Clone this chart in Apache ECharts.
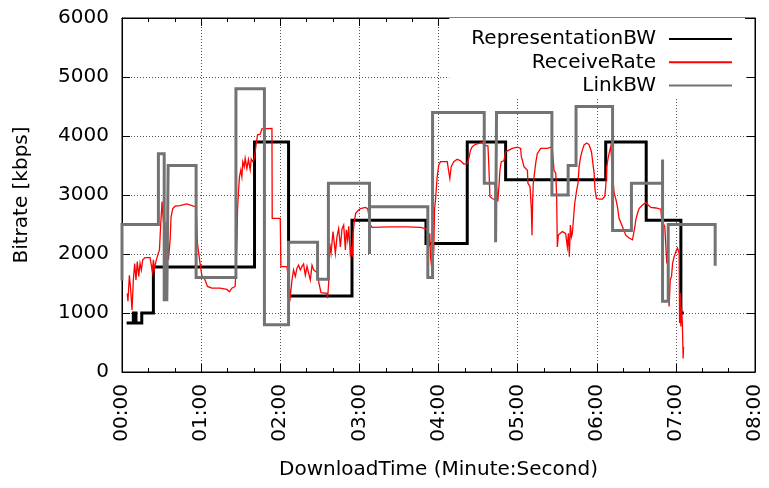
<!DOCTYPE html>
<html>
<head>
<meta charset="utf-8">
<script src="https://cdn.jsdelivr.net/npm/echarts@6/dist/echarts.min.js"></script>
<style>
html,body{margin:0;padding:0;background:#fff;}
#chart{width:769px;height:488px;}
</style>
</head>
<body>
<div id="chart"></div>
<script>
// Time axis (seconds) ticks
var xTicks = [0, 60, 120, 180, 240, 300, 360, 420, 480];
var yTicks = [0, 1000, 2000, 3000, 4000, 5000, 6000];
var seriesNames = ['RepresentationBW', 'ReceiveRate', 'LinkBW'];

// RepresentationBW [time s, kbps]
var representationBW = [
[3.5,830],[8.6,830],[8.6,1000],[10.6,1000],[10.6,830],[15,830],[15,1000],[23.8,1000],[23.8,1780],
[100.5,1780],[100.5,3900],[126.3,3900],[126.3,1290],[174.4,1290],[174.4,2570],[230.5,2570],
[230.5,2180],[261.8,2180],[261.8,3900],[290.9,3900],[290.9,3260],[366.8,3260],[366.8,3900],
[397.5,3900],[397.5,2570],[423.8,2570],[423.8,1000],[426,1000]
];

// ReceiveRate [time s, kbps]
var receiveRate = [
[4.0,1330],[4.5,1200],[5.6,1640],[6.6,1390],[7.6,1050],[8.6,1560],[9.6,1840],[10.6,1560],[11.6,1870],[12.7,1620],
[13.7,1840],[14.7,1730],[15.7,1900],[17.5,1940],[21.3,1940],[22.5,1930],[23.0,1700],[23.8,1900],[24.5,1740],[25.8,1880],
[26.8,1960],[28.4,2070],[29.4,2520],[30.4,2890],[31.4,2550],[32.9,2550],[33.9,2520],[35.2,1900],[36.5,2240],[37.2,2630],
[38.5,2770],[40.3,2810],[44.0,2820],[49.1,2850],[54.2,2810],[56.2,2800],[57.2,2180],[58.7,2160],[59.2,1840],[60.5,1640],
[63.0,1560],[64.8,1450],[68.1,1420],[74.4,1420],[79.5,1400],[81.5,1360],[83.3,1420],[85.8,1450],[86.6,1840],[87.1,2180],
[87.6,2750],[88.4,3085],[89.1,3310],[90.1,3420],[90.9,3310],[91.6,3565],[92.7,3480],[93.4,3620],[94.7,3450],[95.9,3600],
[97.2,3430],[98.0,3610],[99.2,3565],[100.3,3620],[101.0,3730],[101.8,3880],[102.8,4020],[104.8,4030],[106.1,4120],[107.3,4130],
[113.7,4130],[113.9,2605],[120.0,2605],[120.5,1785],[125.1,1785],[127.6,1280],[128.9,1560],[130.1,1730],[131.4,1620],[132.7,1760],
[133.9,1810],[135.2,1730],[136.5,1790],[137.7,1830],[139.0,1640],[140.3,1790],[141.5,1790],[142.8,1560],[144.1,1810],[145.3,1730],
[148.3,1680],[149.1,1530],[150.4,1500],[150.9,1345],[155.5,1335],[155.9,1250],[156.7,1500],[157.5,2180],[158.5,2010],[160.0,2380],
[161.0,2400],[161.8,2010],[163.0,2290],[164.3,2430],[165.6,2120],[166.8,2420],[168.1,2490],[169.4,2070],[170.1,2410],[171.1,2240],
[171.9,2470],[173.2,1955],[173.9,2130],[174.7,1955],[175.2,2350],[176.2,2550],[177.2,2690],[178.7,2730],[180.8,2770],[184.6,2790],
[186.3,2770],[188.4,2490],[189.6,2450],[203.5,2460],[216.2,2460],[226.3,2450],[230.1,2430],[231.9,2400],[232.6,2120],[233.4,2350],
[233.9,1955],[235.2,1700],[236.4,2070],[237.0,2750],[237.7,2915],[239.0,3310],[240.2,3510],[241.5,3565],[246.6,3565],[247.8,3590],
[248.6,3280],[249.6,3480],[251.6,3565],[254.2,3605],[256.7,3580],[259.2,3525],[261.8,3530],[263.0,3620],[264.3,3760],[265.6,3820],
[268.1,3860],[273.2,3890],[274.4,3850],[275.7,3880],[277.5,3830],[278.2,3480],[279.0,2970],[280.8,2940],[282.0,2915],[283.3,2915],
[284.0,3140],[285.0,2890],[285.8,3140],[286.6,3420],[287.6,3565],[288.4,3540],[289.6,3580],[290.9,3730],[292.2,3700],[293.4,3760],
[295.9,3790],[299.8,3810],[302.3,3790],[302.8,3650],[303.6,3590],[304.8,3480],[306.1,3450],[307.4,3420],[307.8,3200],[309.4,3140],
[310.4,2770],[310.9,2320],[311.4,2910],[311.9,3200],[313.7,3540],[314.9,3700],[316.2,3730],[317.5,3790],[322.6,3790],[323.8,3760],
[325.1,3810],[326.4,3760],[327.6,3420],[328.9,3370],[329.6,2970],[330.1,2120],[330.9,2320],[332.1,2350],[333.9,2380],[336.4,2350],
[337.7,2120],[338.5,2350],[339.2,1955],[340.0,2490],[340.8,2290],[341.5,2350],[342.3,2580],[343.3,2860],[344.8,3085],[345.8,3200],
[346.6,3480],[347.8,3650],[349.1,3760],[350.4,3850],[352.4,3880],[354.2,3850],[355.4,3820],[356.0,3730],[357.2,3700],[358.0,3370],
[358.7,3085],[359.8,2940],[361.8,2930],[364.3,2930],[366.1,2980],[366.8,3140],[367.6,3480],[368.6,3620],[369.4,3710],[370.6,3820],
[371.4,3590],[372.1,3310],[373.2,3030],[374.4,2940],[375.7,2800],[376.9,2605],[378.2,2580],[379.5,2460],[382.0,2320],[384.5,2270],
[387.1,2240],[388.3,2270],[388.9,2460],[389.6,2580],[390.9,2690],[392.1,2770],[394.7,2830],[397.2,2870],[399.0,2830],[401.0,2790],
[404.8,2780],[408.6,2760],[409.3,2580],[410.4,2520],[411.6,2460],[413.1,1840],[413.7,2010],[414.9,1110],[415.7,1560],[416.7,1620],
[417.5,1840],[418.7,1955],[420.0,2040],[421.2,2100],[422.5,2010],[422.8,830],[423.3,1340],[423.8,770],[424.3,1110],[425.0,770],
[425.5,230],[425.8,430]
];

// LinkBW [time s, kbps]
var linkBW = [
[0,1550],[0,2500],[27.6,2500],[27.6,3700],[32,3700],[32,1200],[33.5,1200],[33.5,2500],[34,2500],[34,1200],[35,1200],[35,3500],
[56.2,3500],[56.2,1600],[86.4,1600],[86.4,4800],[108,4800],[108,800],[126.3,800],[126.3,2200],[148.3,2200],[148.3,1570],
[156.5,1570],[156.5,3200],[187.7,3200],[187.7,2000],[187.7,2800],[231.9,2800],[231.9,1600],[235.5,1600],[235.5,4400],
[274.7,4400],[274.7,3200],[283.3,3200],[283.3,2200],[284,2200],[284,4400],[326,4400],[326,3000],[338.3,3000],[338.3,3500],
[344.3,3500],[344.3,4500],[372,4500],[372,2400],[386.3,2400],[386.3,3200],[409.9,3200],[409.9,3600],[409.9,1200],[414.2,1200],
[414.2,2500],[449.8,2500],[449.8,1800]
];

function pad(n){ return (n < 10 ? '0' : '') + n; }
function fmtTime(v){ return pad(Math.floor(v/60)) + ':' + pad(Math.round(v % 60)); }

var FONT = 'DejaVu Sans';
var chart = echarts.init(document.getElementById('chart'), null, {renderer: 'canvas'});
var gridLine = {show: true, lineStyle: {color: '#555', width: 1, type: [1, 2]}};

chart.setOption({
  animation: false,
  backgroundColor: '#fff',
  textStyle: {fontFamily: FONT, color: '#000'},
  grid: {left: 122, right: 14, top: 18, bottom: 116, show: true, borderColor: '#000', borderWidth: 1, containLabel: false},
  legend: {
    orient: 'vertical',
    right: 24,
    top: 18,
    align: 'right',
    padding: [10, 12, 2, 22],
    backgroundColor: '#fff',
    itemWidth: 63,
    itemHeight: 2,
    itemGap: 1.3,
    itemStyle: {opacity: 0},
    data: seriesNames,
    textStyle: {fontFamily: FONT, fontSize: 20, color: '#000', lineHeight: 22, padding: [0, 8, 0, 0]},
    selectedMode: false
  },
  xAxis: [{
    type: 'value', min: xTicks[0], max: xTicks[xTicks.length - 1], interval: 60,
    position: 'bottom',
    name: 'DownloadTime (Minute:Second)', nameLocation: 'middle', nameGap: 88,
    nameTextStyle: {fontFamily: FONT, fontSize: 20, color: '#000'},
    axisLine: {show: true, onZero: false, lineStyle: {color: '#000', width: 1}},
    axisTick: {show: true, inside: true, length: 8, lineStyle: {color: '#000'}},
    minorTick: {show: true, splitNumber: 3, length: 4, lineStyle: {color: '#000'}},
    axisLabel: {rotate: 90, margin: 12, fontFamily: FONT, fontSize: 20, color: '#000', formatter: fmtTime},
    splitLine: gridLine
  }, {
    type: 'value', min: xTicks[0], max: xTicks[xTicks.length - 1], interval: 60,
    position: 'top',
    axisLine: {show: true, onZero: false, lineStyle: {color: '#000', width: 1}},
    axisTick: {show: true, inside: true, length: 8, lineStyle: {color: '#000'}},
    minorTick: {show: true, splitNumber: 3, length: 4, lineStyle: {color: '#000'}},
    axisLabel: {show: false},
    splitLine: {show: false}
  }],
  yAxis: [{
    type: 'value', min: yTicks[0], max: yTicks[yTicks.length - 1], interval: 1000,
    position: 'left',
    name: 'Bitrate [kbps]', nameLocation: 'middle', nameGap: 90,
    nameTextStyle: {fontFamily: FONT, fontSize: 20, color: '#000'},
    axisLine: {show: true, onZero: false, lineStyle: {color: '#000', width: 1}},
    axisTick: {show: true, inside: true, length: 8, lineStyle: {color: '#000'}},
    axisLabel: {margin: 13, fontFamily: FONT, fontSize: 20, color: '#000', formatter: function (v) { return String(v); }},
    splitLine: gridLine
  }, {
    type: 'value', min: yTicks[0], max: yTicks[yTicks.length - 1], interval: 1000,
    position: 'right',
    axisLine: {show: true, onZero: false, lineStyle: {color: '#000', width: 1}},
    axisTick: {show: true, inside: true, length: 8, lineStyle: {color: '#000'}},
    axisLabel: {show: false},
    splitLine: {show: false}
  }],
  series: [{
    name: seriesNames[0], type: 'line', data: representationBW, symbol: 'none', showSymbol: false,
    xAxisIndex: 0, yAxisIndex: 0, z: 2,
    lineStyle: {color: '#000', width: 3, join: 'miter', cap: 'butt'}, itemStyle: {color: '#000'}
  }, {
    name: seriesNames[1], type: 'line', data: receiveRate, symbol: 'none', showSymbol: false,
    xAxisIndex: 0, yAxisIndex: 0, z: 3,
    lineStyle: {color: '#ff0000', width: 1.3, join: 'miter'}, itemStyle: {color: '#ff0000'}
  }, {
    name: seriesNames[2], type: 'line', data: linkBW, symbol: 'none', showSymbol: false,
    xAxisIndex: 0, yAxisIndex: 0, z: 4,
    lineStyle: {color: '#737373', width: 3, join: 'miter', cap: 'butt'}, itemStyle: {color: '#737373'}
  }]
});
</script>
</body>
</html>
